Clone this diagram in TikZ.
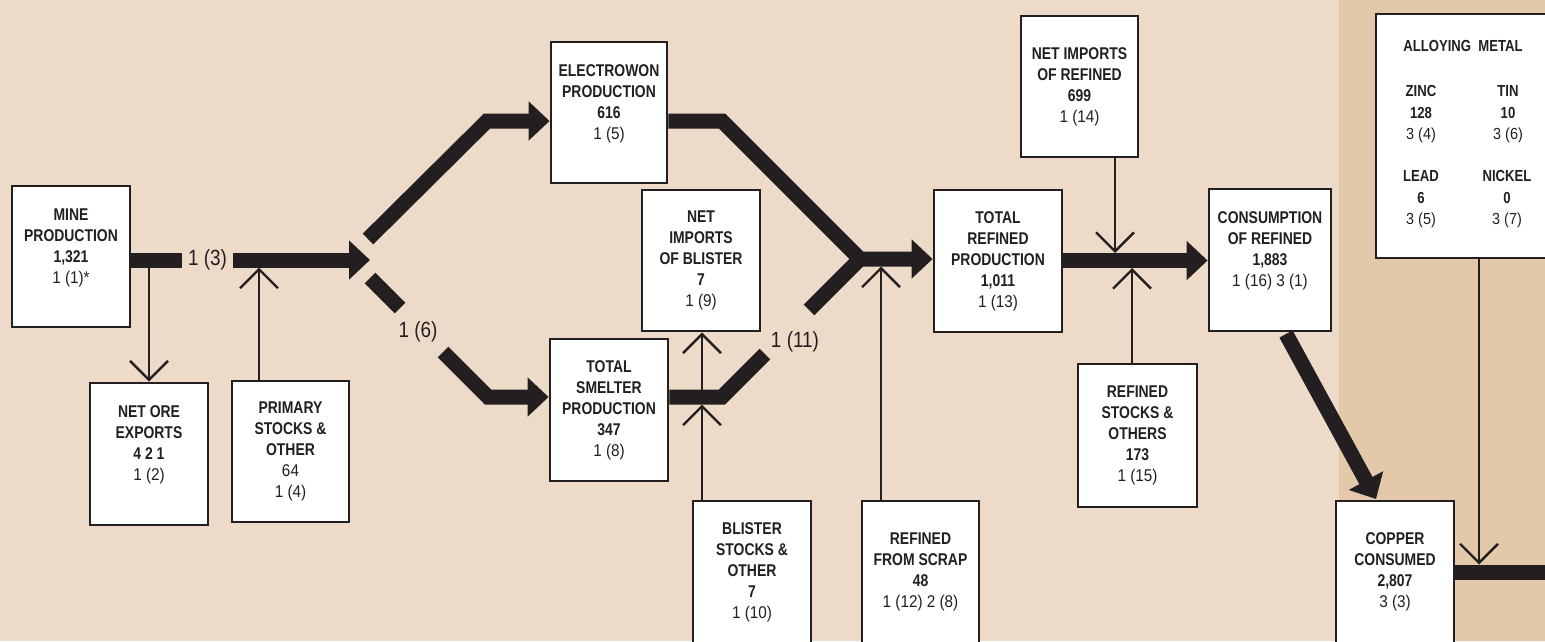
\documentclass[tikz,border=0pt]{standalone}
\usepackage{fontspec}
\setmainfont[FakeStretch=0.9, BoldFeatures={FakeStretch=0.82}]{Liberation Sans}
\newfontfamily\flowfont[FakeStretch=0.86]{Liberation Sans}
\usepackage{tikz}
\usetikzlibrary{arrows.meta}
\definecolor{bgpale}{HTML}{EEDAC8}
\definecolor{bgdeep}{HTML}{E3C8AA}
\definecolor{ink}{HTML}{231F20}

\begin{document}
\begin{tikzpicture}[x=1pt, y=-1pt,
    box/.style={draw=ink, line width=2.8pt, fill=white, minimum width=118pt, minimum height=141pt,
                align=center, text=ink, inner sep=0pt, font=\fontsize{17}{21}\selectfont},
    bar/.style={draw=ink, line width=15pt, line join=miter},
    head/.style={-{Triangle[length=21pt,width=38pt]}},
    feed/.style={draw=ink, line width=2.4pt, -{Straight Barb[length=19pt,width=38pt]}},
    flowlbl/.style={text=ink, inner xsep=6pt, font=\flowfont\fontsize{22}{24}\selectfont},
    alloytxt/.style={text=ink, align=center, font=\fontsize{16}{21.5}\selectfont}]
                \useasboundingbox (0,0) rectangle (1545,641);
                \clip (0,0) rectangle (1545,641);

                % background
                \fill[bgpale] (0,0) rectangle (1545,641);
                \fill[bgdeep] (1339,0) rectangle (1545,641);

                % mine side
                \node[box] (mine) at (71,256.5) {\textbf{MINE}\\ \textbf{PRODUCTION}\\ \textbf{1,321}\\ 1 (1)*\\ \mbox{}};
                \node[box, minimum height=142pt] (netore) at (149,454) {\textbf{NET ORE}\\ \textbf{EXPORTS}\\ \textbf{4 2 1}\\ 1 (2)\\ \mbox{}};
                \node[box, minimum width=117pt] (primary) at (290.5,451.5) {\textbf{PRIMARY}\\ \textbf{STOCKS \&}\\ \textbf{OTHER}\\ 64\\ 1 (4)};

                % electrowon and smelter
                \node[box, minimum width=116pt] (electrowon) at (609,112.5) {\textbf{ELECTROWON}\\ \textbf{PRODUCTION}\\ \textbf{616}\\ 1 (5)\\ \mbox{}};
                \node[box, minimum height=142pt] (smelter) at (609,410) {\textbf{TOTAL}\\ \textbf{SMELTER}\\ \textbf{PRODUCTION}\\ \textbf{347}\\ 1 (8)};
                \node[box] (netblister) at (701,260.5) {\textbf{NET}\\ \textbf{IMPORTS}\\ \textbf{OF BLISTER}\\ \textbf{7}\\ 1 (9)};
                \node[box, minimum height=142pt] (blister) at (752,572) {\textbf{BLISTER}\\ \textbf{STOCKS \&}\\ \textbf{OTHER}\\ \textbf{7}\\ 1 (10)};
                \node[box, minimum width=117pt, minimum height=142pt] (scrap) at (920.5,572) {\textbf{REFINED}\\ \textbf{FROM SCRAP}\\ \textbf{48}\\ 1 (12) 2 (8)};

                % refined side
                \node[box, minimum width=128pt, minimum height=142pt] (totalref) at (998,261) {\textbf{TOTAL}\\ \textbf{REFINED}\\ \textbf{PRODUCTION}\\ \textbf{1,011}\\ 1 (13)};
                \node[box, minimum width=117pt] (netref) at (1079.5,86.5) {\textbf{NET IMPORTS}\\ \textbf{OF REFINED}\\ \textbf{699}\\ 1 (14)};
                \node[box, minimum width=119pt, minimum height=143pt] (refstocks) at (1137.5,435.5) {\textbf{REFINED}\\ \textbf{STOCKS \&}\\ \textbf{OTHERS}\\ \textbf{173}\\ 1 (15)};
                \node[box, minimum width=122pt, minimum height=142pt] (consumption) at (1270,260) {\textbf{CONSUMPTION}\\ \textbf{OF REFINED}\\ \textbf{1,883}\\ 1 (16) 3 (1)\\ \mbox{}};
                \node[box, minimum height=142pt] (copper) at (1395,572) {\textbf{COPPER}\\ \textbf{CONSUMED}\\ \textbf{2,807}\\ 3 (3)};

                % alloying metal
                \node[box, minimum width=240pt, minimum height=244pt] (alloy) at (1496,136) {};
                \node[alloytxt] (alloyhead) at (1463,46) {\textbf{ALLOYING\ \ METAL}};
                \node[alloytxt] (zinc) at (1421,114.5) {\textbf{ZINC}\\ \textbf{128}\\ 3 (4)};
                \node[alloytxt] (tin) at (1508,114.5) {\textbf{TIN}\\ \textbf{10}\\ 3 (6)};
                \node[alloytxt] (lead) at (1421,199.5) {\textbf{LEAD}\\ \textbf{6}\\ 3 (5)};
                \node[alloytxt] (nickel) at (1507,199.5) {\textbf{NICKEL}\\ \textbf{0}\\ 3 (7)};

                % flow labels
                \node[flowlbl] (lbl3) at (207.5,260) {1 (3)};
                \node[flowlbl] (lbl6) at (418,332) {1 (6)};
                \node[flowlbl] (lbl11) at (795,342) {1 (11)};

                % bends and junctions
                \coordinate (split) at (370,260);
                \coordinate (ewA) at (368,239);
                \coordinate (ewB) at (487,121);
                \coordinate (smA) at (370,278);
                \coordinate (smB) at (400,308);
                \coordinate (smC) at (443,352);
                \coordinate (smD) at (488,397);
                \coordinate (ewOut) at (722,121);
                \coordinate (smOut) at (722,397);
                \coordinate (smGapA) at (765,354);
                \coordinate (smGapB) at (809,310);
                \coordinate (merge) at (860,259);
                \coordinate (refbar) at (1100,260.5);
                \coordinate (conOut) at (1286,334);
                \coordinate (cuIn) at (1376,499);
                \coordinate (cuOut) at (1560,572);

                % thin feeds
                \coordinate (oreOut) at (149,260);
                \coordinate (primIn) at (259,267.5);
                \coordinate (blisIn) at (702,404.5);
                \coordinate (blisOut) at (702,397);
                \coordinate (scrapIn) at (881,266.5);
                \coordinate (nrIn) at (1115,253);
                \coordinate (rsIn) at (1132,268);
                \coordinate (alIn) at (1479,564.5);
                \draw[feed] (oreOut) -- (netore.north);
                \draw[feed] (primIn |- primary.north) -- (primIn);
                \draw[feed] (blisIn |- blister.north) -- (blisIn);
                \draw[feed] (blisOut) -- (blisOut |- netblister.south);
                \draw[feed] (scrapIn |- scrap.north) -- (scrapIn);
                \draw[feed] (nrIn |- netref.south) -- (nrIn);
                \draw[feed] (rsIn |- refstocks.north) -- (rsIn);
                \draw[feed] (alIn |- alloy.south) -- (alIn);

                % copper flow
                \draw[bar] (mine.east |- split) -- (lbl3.west);
                \draw[bar, head] (lbl3.east) -- (split);
                \draw[bar, head] (ewA) -- (ewB) -- (electrowon.west |- ewB);
                \draw[bar] (smA) -- (smB);
                \draw[bar, head] (smC) -- (smD) -- (smelter.west |- smD);
                \draw[bar, head] (electrowon.east |- ewOut) -- (ewOut) -- (merge) -- (totalref.west |- merge);
                \draw[bar] (smelter.east |- smOut) -- (smOut) -- (smGapA);
                \draw[bar] (smGapB) -- (merge);
                \draw[bar, head] (totalref.east |- refbar) -- (consumption.west |- refbar);
                \draw[bar, head] (conOut) -- (cuIn);
                \draw[bar] (copper.east) -- (cuOut);
\end{tikzpicture}
\end{document}
